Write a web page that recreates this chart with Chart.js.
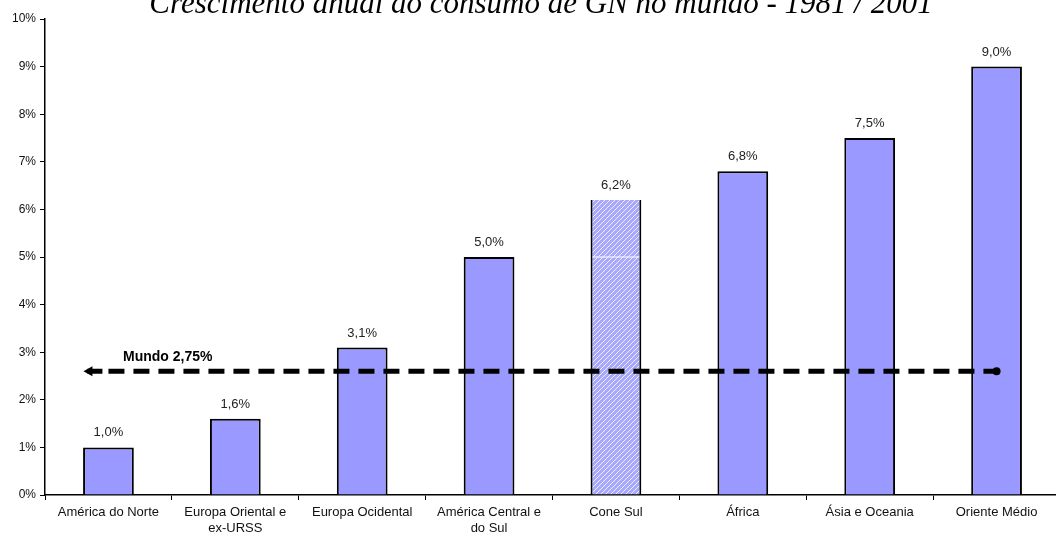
<!DOCTYPE html>
<html>
<head>
<meta charset="utf-8">
<script src="https://cdn.jsdelivr.net/npm/chart.js@4"></script>
<style>
  html, body { margin: 0; padding: 0; background: #fff; overflow: hidden; }
  #wrap { width: 1056px; height: 537px; overflow: hidden; }
</style>
</head>
<body>
<div id="wrap"><canvas id="chartCanvas" width="1064" height="537"></canvas></div>
<script>
const categories = [
  'América do Norte',
  ['Europa Oriental e', 'ex-URSS'],
  'Europa Ocidental',
  ['América Central e', 'do Sul'],
  'Cone Sul',
  'África',
  'Ásia e Oceania',
  'Oriente Médio'
];
const growth = [1.0, 1.6, 3.1, 5.0, 6.2, 6.8, 7.5, 9.0];
const growthLabels = ['1,0%', '1,6%', '3,1%', '5,0%', '6,2%', '6,8%', '7,5%', '9,0%'];
const worldLevel = [2.6, 2.6, 2.6, 2.6, 2.6, 2.6, 2.6, 2.6];
const worldLabel = 'Mundo 2,75%';
const titleText = 'Crescimento anual do consumo de GN no mundo - 1981 / 2001';
const hatchedIndex = 4;

// hatched fill for Cone Sul
function makeHatch() {
  const c = document.createElement('canvas');
  c.width = 5; c.height = 5;
  const g = c.getContext('2d');
  g.fillStyle = '#a9a9fb';
  g.fillRect(0, 0, 5, 5);
  g.strokeStyle = 'rgba(255,255,255,0.8)';
  g.lineWidth = 1;
  g.beginPath();
  g.moveTo(0, 5); g.lineTo(5, 0);
  g.moveTo(-1, 1); g.lineTo(1, -1);
  g.moveTo(4, 6); g.lineTo(6, 4);
  g.stroke();
  return g.createPattern(c, 'repeat');
}
const hatch = makeHatch();

const extras = {
  id: 'extras',
  afterDatasetsDraw(chart) {
    const ctx = chart.ctx;
    const y = chart.scales.y;
    const bars = chart.getDatasetMeta(0).data;
    ctx.save();
    // white line in the hatched bar at 5%
    const hb = bars[hatchedIndex];
    ctx.strokeStyle = '#fff';
    ctx.lineWidth = 1;
    ctx.beginPath();
    ctx.moveTo(hb.x - hb.width / 2 + 2, y.getPixelForValue(5));
    ctx.lineTo(hb.x + hb.width / 2 - 2, y.getPixelForValue(5));
    ctx.stroke();
    // value labels
    ctx.fillStyle = '#222';
    ctx.font = '13px "Liberation Sans", Arial, sans-serif';
    ctx.textAlign = 'center';
    ctx.textBaseline = 'bottom';
    bars.forEach((b, i) => ctx.fillText(growthLabels[i], b.x, b.y - 8));
    // world line arrow head and label
    const line = chart.getDatasetMeta(1).data;
    const yy = line[0].y;
    const tip = line[0].x - 25;
    ctx.strokeStyle = '#000';
    ctx.lineWidth = 5;
    ctx.beginPath();
    ctx.moveTo(tip + 4, yy);
    ctx.lineTo(line[0].x - 6, yy);
    ctx.stroke();
    ctx.fillStyle = '#000';
    ctx.beginPath();
    ctx.moveTo(tip, yy);
    ctx.lineTo(tip + 9, yy - 5);
    ctx.lineTo(tip + 9, yy + 5);
    ctx.closePath();
    ctx.fill();
    ctx.font = 'bold 14px "Liberation Sans", Arial, sans-serif';
    ctx.textAlign = 'left';
    ctx.textBaseline = 'alphabetic';
    ctx.fillText(worldLabel, 123, yy - 10);
    // title, partly cut off at the top
    ctx.font = 'italic 31px "Liberation Serif", "Times New Roman", serif';
    ctx.textAlign = 'center';
    ctx.fillText(titleText, 541, 13);
    ctx.restore();
  }
};

const ctx = document.getElementById('chartCanvas').getContext('2d');

new Chart(ctx, {
  type: 'bar',
  data: {
    labels: categories,
    datasets: [
      {
        label: 'Crescimento',
        data: growth,
        backgroundColor: growth.map((v, i) => i === hatchedIndex ? hatch : '#9999ff'),
        borderColor: '#000',
        borderWidth: c => c.dataIndex === hatchedIndex
          ? { left: 2, right: 2, top: 0, bottom: 0 }
          : { left: 2, right: 2, top: 2, bottom: 0 },
        borderSkipped: false,
        categoryPercentage: 1,
        barPercentage: 0.4,
        order: 2
      },
      {
        type: 'line',
        label: 'Mundo',
        data: worldLevel,
        borderColor: '#000',
        borderWidth: 5,
        borderDash: [16, 9],
        fill: false,
        pointRadius: worldLevel.map((v, i) => i === worldLevel.length - 1 ? 4 : 0),
        pointBackgroundColor: '#000',
        pointBorderWidth: 0,
        order: 1
      }
    ]
  },
  options: {
    responsive: false,
    animation: false,
    layout: { padding: { top: 19, right: 0, left: 0, bottom: 0 } },
    plugins: {
      legend: { display: false },
      tooltip: { enabled: false }
    },
    scales: {
      x: {
        offset: true,
        grid: {
          offset: true,
          drawOnChartArea: false,
          drawTicks: true,
          tickLength: 5,
          color: '#000',
          lineWidth: 1
        },
        border: { color: '#000', width: 1.5 },
        ticks: {
          color: '#111',
          font: { family: '"Liberation Sans", Arial, sans-serif', size: 13, lineHeight: 1.2 },
          maxRotation: 0,
          autoSkip: false,
          padding: 5
        },
        afterFit: s => { s.height = 42; }
      },
      y: {
        min: 0,
        max: 10,
        grid: {
          drawOnChartArea: false,
          drawTicks: true,
          tickLength: 5,
          color: '#000'
        },
        border: { color: '#000', width: 1.5 },
        ticks: {
          stepSize: 1,
          color: '#111',
          font: { family: '"Liberation Sans", Arial, sans-serif', size: 12 },
          padding: 4,
          callback: v => v + '%'
        },
        afterFit: s => { s.width = 45; }
      }
    }
  },
  plugins: [extras]
});
</script>
</body>
</html>
